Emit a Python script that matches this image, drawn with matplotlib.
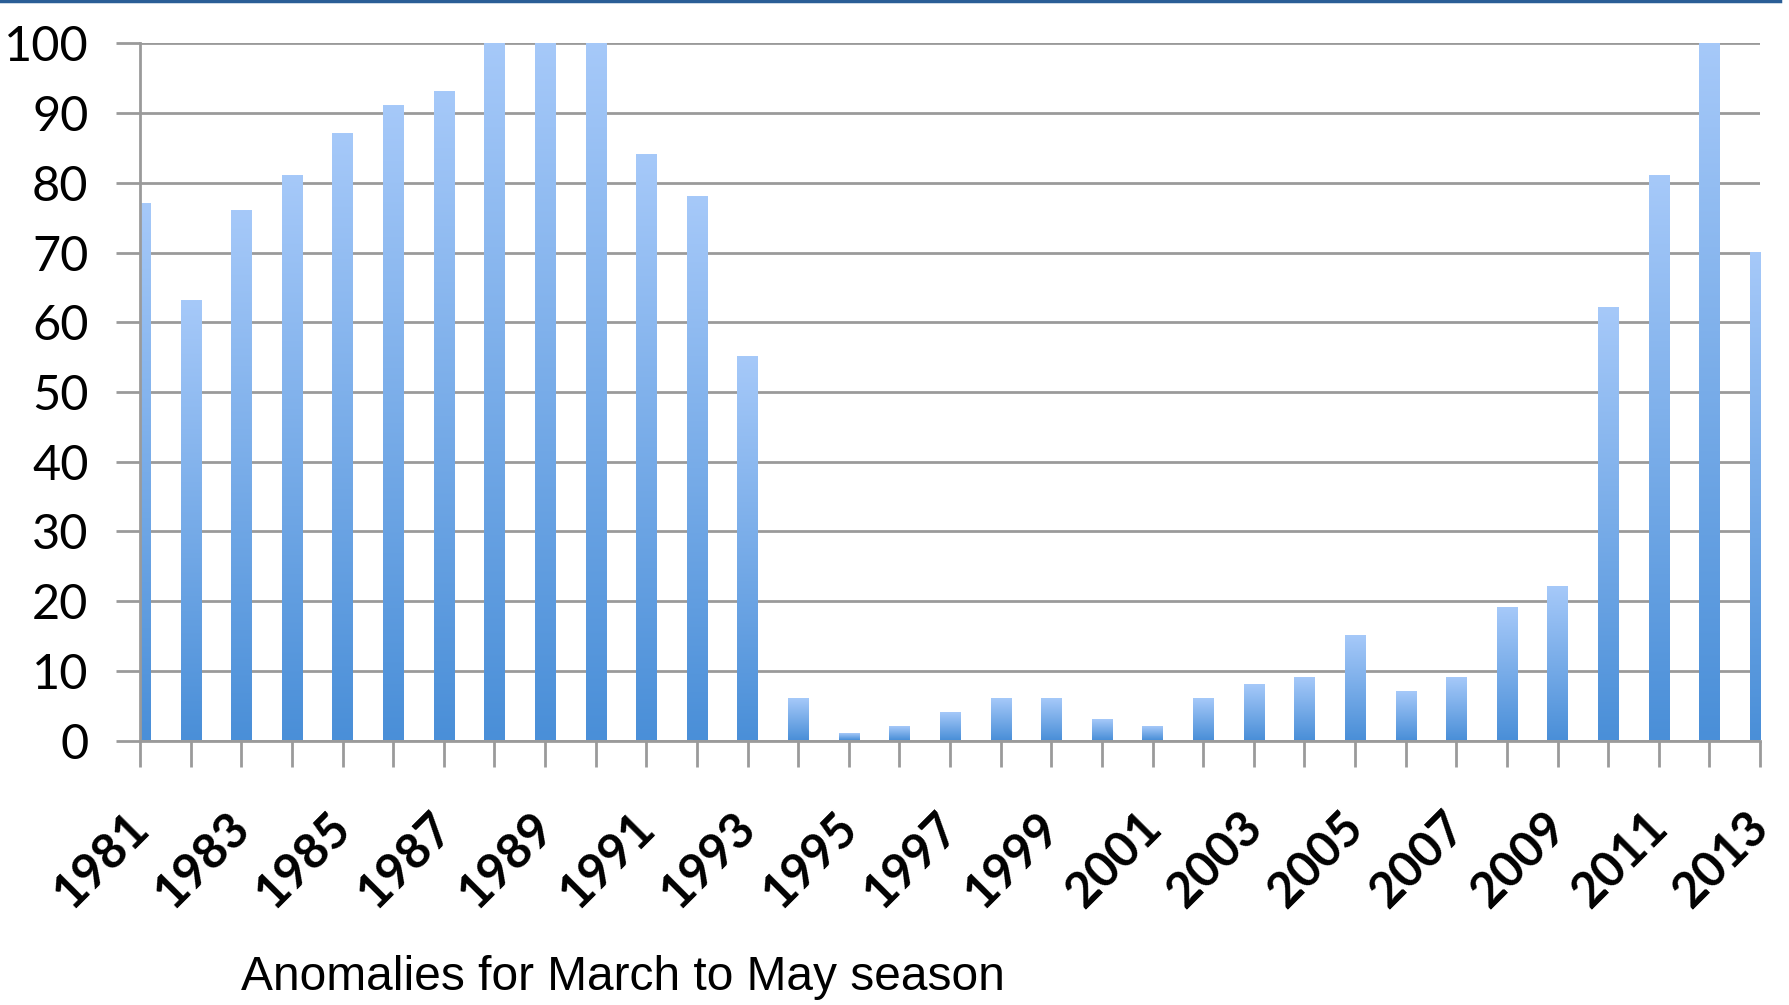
import numpy as np
import matplotlib
matplotlib.use('Agg')
import matplotlib.pyplot as plt
import matplotlib.transforms as mtransforms
from matplotlib.colors import LinearSegmentedColormap
from matplotlib.lines import Line2D

years = list(range(1981, 2014))
values = [77, 63, 76, 81, 87, 91, 93, 100, 100, 100,
          84, 78, 55, 6, 1, 2, 4, 6, 6, 3,
          2, 6, 8, 9, 15, 7, 9, 19, 22, 62,
          81, 100, 70]
tick_labels = [str(y) if (y - 1981) % 2 == 0 else '' for y in years]
yticks = list(range(0, 101, 10))
caption = 'Anomalies for March to May season'

grid_color = '#9a9a9a'
bar_cmap = LinearSegmentedColormap.from_list('barfade', ['#4a8fd8', '#a6c9f9'])
bar_w = 0.40

fig = plt.figure(figsize=(17.89, 10.05), dpi=100)
ax = fig.add_axes([140 / 1789, 264.5 / 1005, (1760 - 140) / 1789, (961.6 - 264.5) / 1005])

# gradient bars, light at top and dark at bottom
grad = np.linspace(0, 1, 256).reshape(-1, 1)
for yr, v in zip(years, values):
    ax.imshow(grad, cmap=bar_cmap, origin='lower', aspect='auto',
              extent=[yr - bar_w / 2, yr + bar_w / 2, 0, v],
              interpolation='bilinear', zorder=2, clip_on=True)
ax.set_xlim(years[0], years[-1])
ax.set_ylim(0, 100)

ax.set_yticks(yticks)
ax.set_yticklabels([str(t) for t in yticks], fontsize=35, family='Lato')
ax.yaxis.grid(True, color=grid_color, linewidth=2)
ax.set_axisbelow(True)
ax.tick_params(axis='y', length=17, width=2, color=grid_color, pad=20)

ax.set_xticks(years)
ax.set_xticklabels(tick_labels, fontsize=35, family='Lato', fontweight='bold',
                   rotation=45, ha='right')
ax.tick_params(axis='x', length=19, width=2, color=grid_color, pad=27)
shift = mtransforms.ScaledTranslation(17 / 100, 0, fig.dpi_scale_trans)
for lbl in ax.get_xticklabels():
    lbl.set_transform(lbl.get_transform() + shift)

for side in ['top', 'right']:
    ax.spines[side].set_visible(False)
for side in ['left', 'bottom']:
    ax.spines[side].set_color(grid_color)
    ax.spines[side].set_linewidth(2)

fig.text(241 / 1789, 1 - 978 / 1005, caption, fontsize=34.5,
         family='Liberation Sans', ha='left', va='center')

# slide border at the top
fig.add_artist(Line2D([0, 0.995], [0.999, 0.999], transform=fig.transFigure,
                      color='#2a5e96', linewidth=2.5))

fig.savefig('out.png', dpi=100)
